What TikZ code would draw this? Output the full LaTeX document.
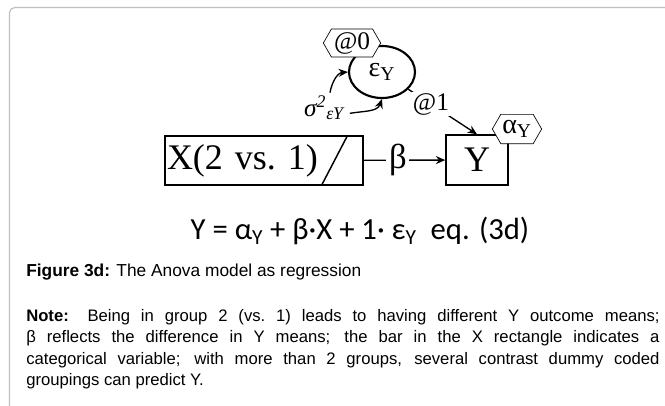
\documentclass[tikz,border=0pt]{standalone}
\usepackage{fontspec}
\setmainfont{Liberation Serif}
\newfontfamily\notefont{Liberation Sans}
\newfontfamily\eqnfont{Carlito}
\usetikzlibrary{shapes.geometric,shapes.symbols,arrows.meta}

\tikzset{
  varbox/.style={draw,line width=1.1pt,inner sep=0pt,font=\fontsize{27}{30}\selectfont},
  hexa/.style={draw,fill=white,line width=0.5pt,signal,signal to=west and east,
    signal pointer angle=120,inner sep=1pt,font=\fontsize{19}{22}\selectfont},
  path/.style={line width=1pt,-{Stealth[length=7pt,width=6pt]}},
}

\begin{document}
\begin{tikzpicture}[x=0.75pt,y=-0.75pt]
  \useasboundingbox (0,0) rectangle (665,405);
  % frame
  \draw[gray!50,line width=0.9pt,rounded corners=4pt] (9.5,406) -- (9.5,7.5) -- (666,7.5);

  \node[varbox,minimum height=36.75pt,text width=145.5pt,inner xsep=1.5pt,align=left] (xbox) at (264,160.5) {\frenchspacing X(2 vs. 1)};
  \draw[line width=1.1pt] (322,184.5) -- (347,136.5);
  \node[varbox,minimum width=46.5pt,minimum height=37.5pt] (ybox) at (477,160) {Y};
  \node[ellipse,draw,line width=1.6pt,minimum width=49.5pt,minimum height=39pt,inner sep=0pt,
    font=\fontsize{21}{24}\selectfont] (eps) at (382,72) {ε\textsubscript{Y}};
  \node[hexa,minimum width=43pt,minimum height=21pt] (at0) at (352,43) {@0};
  \node[hexa,minimum width=37pt,minimum height=22pt,font=\fontsize{21}{24}\selectfont] (alpha) at (517,129) {α\textsubscript{Y}};
  \node[font=\fontsize{19}{22}\selectfont\itshape] (sig) at (324,108) {σ\textsuperscript{2}\textsubscript{εY}};

  \draw[path] (xbox) -- node[pos=0.42,fill=white,inner sep=2pt,font=\fontsize{26}{28}\selectfont] (beta) {β} (ybox);
  \draw[path] (eps) -- node[pos=0.33,fill=white,inner sep=1pt,font=\fontsize{19}{22}\selectfont] (at1) {@1} (ybox.north);
  \draw[path] ([xshift=4.5pt,yshift=-1pt]sig.north) to[out=80,in=185] (eps.west);
  \draw[path] ([xshift=1pt,yshift=-4pt]sig.east) to[out=10,in=-110] (eps.south);

  \node[font=\eqnfont\fontsize{23}{27}\selectfont] (eqn) at (360,231)
    {Y = α\textsubscript{Y} + β·X + 1· ε\textsubscript{Y}\ \ eq. (3d)};
  \node[anchor=base west,inner sep=0pt,font=\notefont\fontsize{13}{16}\selectfont] (cap) at (26,276)
    {\textbf{Figure 3d:} The Anova model as regression};
  \node[anchor=north west,inner sep=0pt,text width=475pt,align=justify,
    font=\notefont\fontsize{12.5}{16}\selectfont] (note) at (26,309)
    {\textbf{Note:} Being in group 2 (vs.\ 1) leads to having different Y outcome means;\linebreak
     β reflects the difference in Y means; the bar in the X rectangle indicates a\linebreak
     categorical variable; with more than 2 groups, several contrast dummy coded\linebreak
     groupings can predict Y.};
\end{tikzpicture}
\end{document}
